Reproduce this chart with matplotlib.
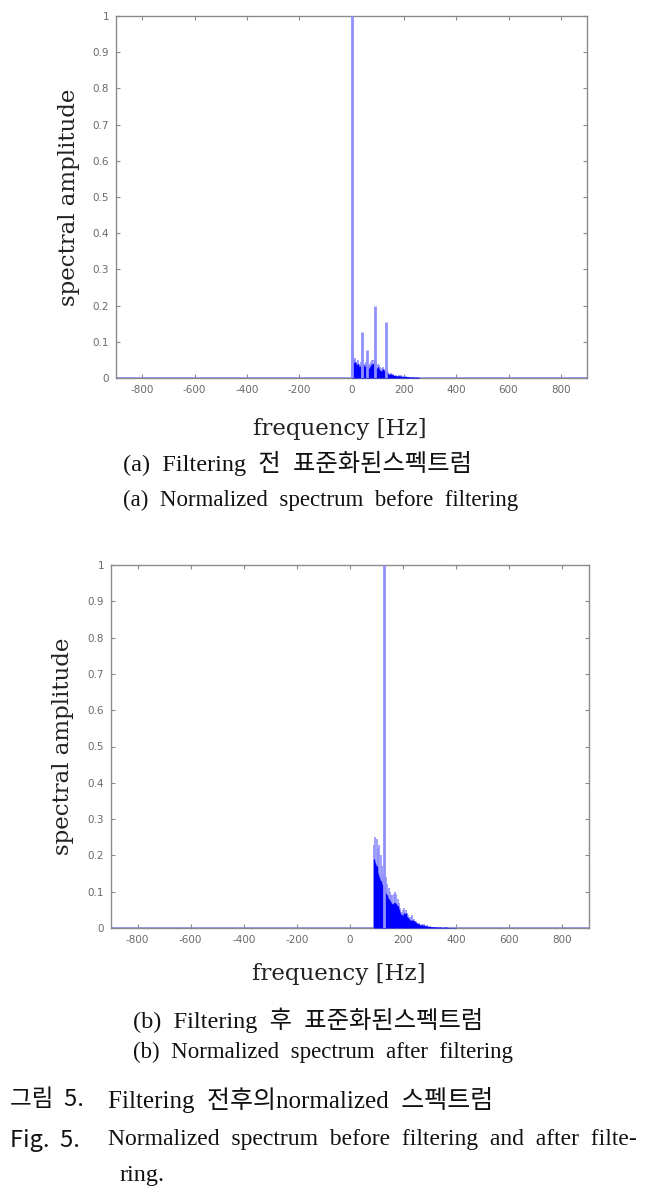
import numpy as np
import matplotlib
matplotlib.use('Agg')
import matplotlib.pyplot as plt
from matplotlib.ticker import FuncFormatter

plt.rcParams['axes.unicode_minus'] = False

# ---- data ----
# (a) before filtering
a_freq = [0, 5, 10, 15, 20, 25, 30, 35, 40, 45, 50, 55, 60, 65, 70, 75, 80, 85, 90, 95,
          100, 105, 110, 115, 120, 125, 130, 135, 140, 150, 160, 170, 180, 190, 200,
          210, 220, 230, 240, 250, 260]
a_dense = [0.045, 0.05, 0.04, 0.045, 0.035, 0.04, 0.03, 0.035, 0.03, 0.04, 0.03, 0.035,
           0.03, 0.025, 0.03, 0.035, 0.04, 0.04, 0.03, 0.025, 0.03, 0.025, 0.02, 0.02,
           0.025, 0.02, 0.02, 0.015, 0.012, 0.01, 0.008, 0.006, 0.006, 0.005, 0.004,
           0.004, 0.003, 0.002, 0.002, 0.002, 0.001]
a_light = [0.09, 0.06, 0.05, 0.055, 0.045, 0.05, 0.04, 0.045, 0.04, 0.05, 0.04, 0.045,
           0.04, 0.035, 0.04, 0.045, 0.05, 0.05, 0.04, 0.035, 0.04, 0.035, 0.03, 0.028,
           0.03, 0.025, 0.025, 0.02, 0.016, 0.013, 0.01, 0.008, 0.008, 0.007, 0.006,
           0.005, 0.004, 0.003, 0.003, 0.003, 0.002]
a_peak_freq = [0, 42, 61, 88, 130]
a_peak_amp = [1.0, 0.127, 0.077, 0.2, 0.155]

# (b) after filtering
b_freq = [90, 95, 100, 105, 110, 115, 120, 125, 130, 135, 140, 145, 150, 155, 160, 165,
          170, 175, 180, 185, 190, 195, 200, 205, 210, 215, 220, 225, 230, 235, 240, 250,
          260, 270, 280, 290, 300, 320, 340, 360, 380, 400]
b_dense = [0.19, 0.18, 0.17, 0.15, 0.14, 0.13, 0.12, 0.11, 0.1, 0.095, 0.09, 0.08, 0.075,
           0.07, 0.065, 0.07, 0.07, 0.065, 0.06, 0.05, 0.04, 0.035, 0.035, 0.04, 0.04,
           0.03, 0.028, 0.022, 0.02, 0.022, 0.02, 0.015, 0.01, 0.008, 0.007, 0.005,
           0.004, 0.003, 0.002, 0.002, 0.001, 0.001]
b_light = [0.23, 0.25, 0.245, 0.22, 0.23, 0.2, 0.17, 0.15, 0.14, 0.14, 0.12, 0.11, 0.1,
           0.09, 0.09, 0.095, 0.1, 0.095, 0.08, 0.07, 0.055, 0.045, 0.05, 0.055, 0.05,
           0.04, 0.035, 0.03, 0.03, 0.035, 0.025, 0.02, 0.015, 0.012, 0.01, 0.008,
           0.006, 0.004, 0.003, 0.004, 0.002, 0.002]
b_peak_freq = [128]
b_peak_amp = [1.0]

x_ticks = [-800, -600, -400, -200, 0, 200, 400, 600, 800]
y_ticks = [0, 0.1, 0.2, 0.3, 0.4, 0.5, 0.6, 0.7, 0.8, 0.9, 1]

LIGHT = '#9090ff'
DARK = '#0000ff'
GRAY = '#8a8a8a'

W, H = 648, 1193
fig = plt.figure(figsize=(W / 100, H / 100), dpi=100)


def box(l, t, r, b):
    return [l / W, 1 - b / H, (r - l) / W, (b - t) / H]


def spectrum(ax, freq, dense, light, pk_f, pk_a, lab_x, lab_y):
    ax.axhline(0, color=LIGHT, lw=2, zorder=1)
    ax.vlines(freq, 0, light, color=LIGHT, lw=1.2, zorder=2)
    ax.fill_between(freq, 0, dense, color=DARK, lw=0, zorder=3)
    ax.vlines(freq, 0, dense, color=DARK, lw=1.0, zorder=3)
    ax.vlines(pk_f, 0, pk_a, color=LIGHT, lw=2, zorder=4)
    ax.set_xlim(-900, 900)
    ax.set_ylim(0, 1)
    ax.set_xticks(x_ticks)
    ax.set_yticks(y_ticks)
    ax.yaxis.set_major_formatter(FuncFormatter(lambda v, p: '%g' % v))
    ax.tick_params(direction='in', top=True, right=True, length=3, width=0.8,
                   color=GRAY, labelcolor='#6a6a6a', labelsize=7.5, pad=5)
    for s in ax.spines.values():
        s.set_color(GRAY)
        s.set_linewidth(1.0)
    ax.set_ylabel('spectral amplitude', family='DejaVu Serif', fontsize=16.5, color='#222222')
    ax.set_xlabel('frequency [Hz]', family='DejaVu Serif', fontsize=16.5, color='#222222')
    ax.yaxis.set_label_coords(lab_x, 0.5)
    ax.xaxis.set_label_coords(0.476, lab_y)


ax1 = fig.add_axes(box(116, 16, 587, 378))
spectrum(ax1, a_freq, a_dense, a_light, a_peak_freq, a_peak_amp, -36 / 471, -0.11)

ax2 = fig.add_axes(box(111, 565, 589, 928))
spectrum(ax2, b_freq, b_dense, b_light, b_peak_freq, b_peak_amp, -37 / 478, -0.096)

cap = ['Liberation Serif', 'Noto Sans CJK KR']
sans = ['Noto Sans CJK KR', 'DejaVu Sans']


def put(x, y, s, fam, size=17.5):
    fig.text(x / W, 1 - y / H, s, family=fam, fontsize=size, ha='left', va='center',
             color='#111111')


put(123, 463, '(a)  Filtering  전  표준화된스펙트럼', cap)
put(123, 500, '(a)  Normalized  spectrum  before  filtering', cap, 16.5)
put(133, 1020, '(b)  Filtering  후  표준화된스펙트럼', cap)
put(133, 1052, '(b)  Normalized  spectrum  after  filtering', cap, 16.5)
put(10, 1100, '그림  5.', sans, 17)
put(108, 1100, 'Filtering  전후의normalized  스펙트럼', cap, 18)
put(10, 1140, 'Fig.  5.', sans, 17)
put(108, 1140, 'Normalized  spectrum  before  filtering  and  after  filte-', cap, 17)
put(120, 1175, 'ring.', cap)

fig.savefig('out.png', dpi=100)
